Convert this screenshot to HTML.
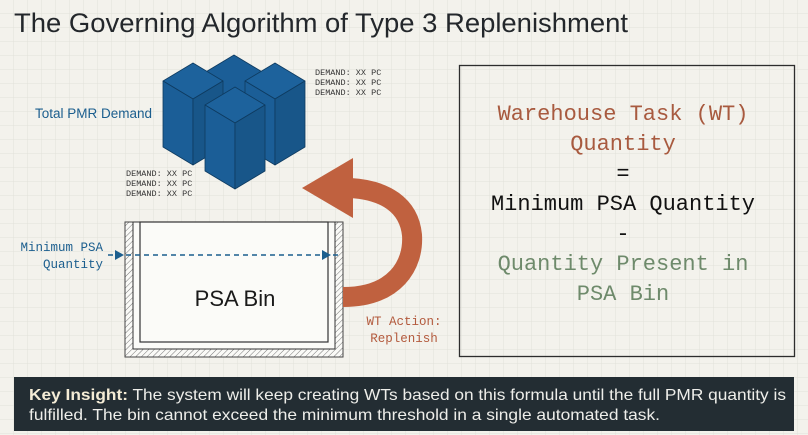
<!DOCTYPE html>
<html><head><meta charset="utf-8"><style>
html,body{margin:0;padding:0;width:808px;height:435px;overflow:hidden;background:#f3f2ec}
svg{display:block}
.mono{font-family:"Liberation Mono","DejaVu Sans Mono",monospace}
.sans{font-family:"Liberation Sans","DejaVu Sans",sans-serif}
</style></head><body>
<svg width="808" height="435" viewBox="0 0 808 435" xmlns="http://www.w3.org/2000/svg">
<defs>
<pattern id="grid" width="14" height="14" patternUnits="userSpaceOnUse">
<path d="M14 0V14M0 14H14" stroke="#e1e1da" stroke-width="1" fill="none"/>
</pattern>
<pattern id="hatch" width="4" height="4" patternUnits="userSpaceOnUse" patternTransform="rotate(45)">
<rect width="4" height="4" fill="#fafaf7"/><line x1="0" y1="0" x2="0" y2="4" stroke="#777" stroke-width="1"/>
</pattern>
</defs>
<rect width="808" height="435" fill="#f3f2ec"/>
<rect width="808" height="435" fill="url(#grid)"/>

<text x="14" y="32" class="sans" font-size="27" fill="#23272b" textLength="614" lengthAdjust="spacingAndGlyphs">The Governing Algorithm of Type 3 Replenishment</text>

<g stroke="#0e3b60" stroke-width="0.8" stroke-linejoin="round">
<polygon points="204,73 234,55 264,73 264,133 234,151 204,133" fill="#1b5e97"/>
<polygon points="163,81 193,63 223,81 193,99" fill="#1d629c"/>
<polygon points="163,81 193,99 193,165 163,147" fill="#1b5e97"/>
<polygon points="193,99 223,81 223,147 193,165" fill="#185689"/>
<polygon points="245,81 275,63 305,81 275,99" fill="#1d629c"/>
<polygon points="245,81 275,99 275,165 245,147" fill="#1b5e97"/>
<polygon points="275,99 305,81 305,147 275,165" fill="#185689"/>
<polygon points="205,105 235,87 265,105 235,123" fill="#1d629c"/>
<polygon points="205,105 235,123 235,189 205,171" fill="#1b5e97"/>
<polygon points="235,123 265,105 265,171 235,189" fill="#185689"/>
</g>

<g class="mono" font-size="8.5" fill="#333">
<text x="315" y="75">DEMAND: XX PC</text>
<text x="315" y="85">DEMAND: XX PC</text>
<text x="315" y="95">DEMAND: XX PC</text>
<text x="126" y="176">DEMAND: XX PC</text>
<text x="126" y="186">DEMAND: XX PC</text>
<text x="126" y="196">DEMAND: XX PC</text>
</g>
<text x="35" y="118" class="sans" font-size="13.5" fill="#1b5e8e">Total PMR Demand</text>

<rect x="125" y="222" width="218" height="135" fill="url(#hatch)" stroke="#444" stroke-width="1"/>
<rect x="133" y="222" width="202" height="127" fill="#fbfbf8" stroke="#333" stroke-width="1"/>
<rect x="140" y="222" width="188" height="120" fill="#fbfbf8" stroke="#333" stroke-width="1.2"/>
<text x="235" y="306" text-anchor="middle" class="sans" font-size="22" fill="#1a1a1a">PSA Bin</text>

<line x1="108" y1="255" x2="342" y2="255" stroke="#1b5e8e" stroke-width="1.5" stroke-dasharray="5,4"/>
<polygon points="115,250 124,255 115,260" fill="#1b5e8e"/>
<polygon points="322,250 331,255 322,260" fill="#1b5e8e"/>
<g class="mono" font-size="12.5" fill="#1b5e8e" text-anchor="end">
<text x="103" y="251">Minimum PSA</text>
<text x="103" y="268">Quantity</text>
</g>

<path d="M343 297 C 395 297, 414 265, 412 235 C 409 205, 385 190, 350 188" fill="none" stroke="#c0613f" stroke-width="20"/>
<polygon points="353,158 302,188 353,218" fill="#c0613f"/>
<g class="mono" font-size="12.5" fill="#b35a3d" text-anchor="middle">
<text x="404" y="325">WT Action:</text>
<text x="404" y="342">Replenish</text>
</g>

<rect x="459.5" y="65.5" width="335" height="291" fill="none" stroke="#2d2d2d" stroke-width="1.3"/>
<g class="mono" font-size="22" text-anchor="middle">
<text x="623" y="120" fill="#a85a3f">Warehouse Task (WT)</text>
<text x="623" y="150" fill="#a85a3f">Quantity</text>
<text x="623" y="180" fill="#111">=</text>
<text x="623" y="210" fill="#111">Minimum PSA Quantity</text>
<text x="623" y="240" fill="#111">-</text>
<text x="623" y="270" fill="#6e8a6b">Quantity Present in</text>
<text x="623" y="300" fill="#6e8a6b">PSA Bin</text>
</g>

<rect x="14" y="377" width="780" height="54" fill="#232d33"/>
<g class="sans" font-size="16" fill="#eeeeea">
<text x="29" y="400" textLength="757" lengthAdjust="spacingAndGlyphs"><tspan fill="#f4ecd6" font-weight="bold">Key Insight:</tspan> The system will keep creating WTs based on this formula until the full PMR quantity is</text>
<text x="29" y="420" textLength="631" lengthAdjust="spacingAndGlyphs">fulfilled. The bin cannot exceed the minimum threshold in a single automated task.</text>
</g>
</svg>
</body></html>
